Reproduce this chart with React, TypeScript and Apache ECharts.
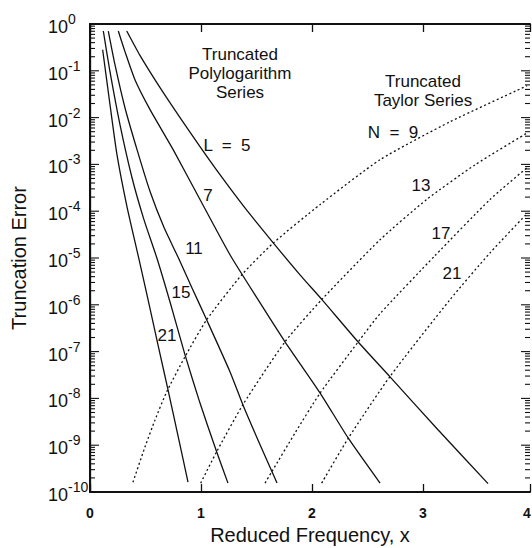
import React, { useEffect, useRef } from 'react';
import * as echarts from 'echarts';

const FONT = '"Liberation Sans", Arial, Helvetica, sans-serif';
const INK = '#111111';

// x axis range (right frame sits just short of x = 4)
const X_MIN = 0;
const X_MAX = 3.964;
const Y_MIN = 1e-10;
const Y_MAX = 1;

// Truncated polylogarithm series (solid): x and log10(error)
const L5_x = [0.331, 0.45, 0.631, 0.811, 0.991, 1.171, 1.396, 1.649, 1.892, 2.09, 2.414, 2.703, 3.135, 3.586];
const L5_log = [-0.15, -0.67, -1.36, -2.0, -2.62, -3.22, -3.93, -4.67, -5.36, -5.89, -6.79, -7.54, -8.67, -9.82];
const L7_x = [0.255, 0.315, 0.405, 0.541, 0.748, 0.991, 1.261, 1.514, 1.757, 2.072, 2.324, 2.613];
const L7_log = [-0.15, -0.59, -1.19, -1.83, -2.68, -3.75, -4.93, -5.89, -6.79, -7.88, -8.84, -9.81];
const L11_x = [0.165, 0.225, 0.315, 0.423, 0.541, 0.667, 0.795, 0.919, 1.051, 1.261, 1.378, 1.532, 1.685];
const L11_log = [-0.15, -0.87, -1.79, -2.68, -3.58, -4.35, -4.99, -5.64, -6.32, -7.43, -8.14, -8.99, -9.81];
const L15_x = [0.12, 0.18, 0.27, 0.378, 0.486, 0.601, 0.721, 0.856, 0.991, 1.141, 1.243];
const L15_log = [-0.15, -1.02, -2.15, -3.28, -4.18, -4.99, -5.94, -7.07, -8.1, -9.14, -9.81];
const L21_x = [0.114, 0.18, 0.243, 0.333, 0.432, 0.523, 0.613, 0.703, 0.793, 0.883];
const L21_log = [-0.55, -1.72, -2.79, -3.9, -4.93, -5.89, -6.86, -7.82, -8.8, -9.79];

// Truncated Taylor series (dotted): x and log10(error)
const N9_x = [0.387, 0.495, 0.586, 0.691, 0.856, 1.051, 1.367, 1.651, 2.072, 2.613, 3.243, 3.937];
const N9_log = [-9.79, -9.04, -8.46, -7.86, -7.11, -6.32, -5.36, -4.68, -3.86, -2.9, -2.09, -1.32];
const N13_x = [0.997, 1.141, 1.376, 1.757, 2.087, 2.613, 3.033, 3.468, 3.937];
const N13_log = [-9.81, -9.14, -8.14, -6.79, -5.89, -4.61, -3.75, -3.01, -2.33];
const N17_x = [1.577, 1.637, 1.847, 2.072, 2.417, 2.613, 3.108, 3.604, 3.937];
const N17_log = [-9.81, -9.57, -8.74, -7.89, -6.79, -6.19, -4.95, -3.75, -3.07];
const N21_x = [2.087, 2.327, 2.703, 3.243, 3.604, 3.937];
const N21_log = [-9.81, -8.85, -7.53, -5.89, -4.89, -4.05];

// decade ticks and minor ticks on the log axis
const decades = [-10, -9, -8, -7, -6, -5, -4, -3, -2, -1];
const minorMultipliers = [2, 3, 4, 5, 6, 7, 8, 9];

const toPairs = (xs: number[], logs: number[]) => xs.map((x, i) => [x, Math.pow(10, logs[i])]);

const solid = (name: string, xs: number[], logs: number[]) => ({
  name,
  type: 'line',
  data: toPairs(xs, logs),
  symbol: 'none',
  smooth: 0.2,
  silent: true,
  lineStyle: { color: INK, width: 1.3, type: 'solid' },
});

const dotted = (name: string, xs: number[], logs: number[]) => ({
  name,
  type: 'line',
  data: toPairs(xs, logs),
  symbol: 'none',
  smooth: 0.2,
  silent: true,
  lineStyle: { color: INK, width: 1.3, type: [2, 2.6] },
});

const txt = (text: string, x: number, y: number, size = 17, extra: any = {}) => ({
  type: 'text',
  x,
  y,
  silent: true,
  style: {
    text,
    fill: INK,
    fontSize: size,
    fontFamily: FONT,
    align: 'center',
    verticalAlign: 'middle',
    textAlign: 'center',
    textVerticalAlign: 'middle',
    ...extra,
  },
});

export default function App() {
  const ref = useRef<HTMLDivElement>(null);

  useEffect(() => {
    if (!ref.current) return;
    const chart = echarts.init(ref.current, null, { renderer: 'svg' });

    const tickVals: number[][] = [];
    decades.forEach((d) => {
      minorMultipliers.forEach((k) => tickVals.push([0, k * Math.pow(10, d), 5]));
      if (d > -10) tickVals.push([0, Math.pow(10, d), 9]);
    });

    const option: any = {
      animation: false,
      backgroundColor: '#ffffff',
      textStyle: { fontFamily: FONT, color: INK },
      grid: { left: 90, right: 2, top: 24, bottom: 56, containLabel: false, outerBoundsMode: 'none' },
      xAxis: [
        {
          type: 'value',
          min: X_MIN,
          max: X_MAX,
          interval: 1,
          position: 'bottom',
          name: 'Reduced Frequency, x',
          nameLocation: 'middle',
          nameGap: 33,
          nameTextStyle: { fontSize: 20, color: INK, fontFamily: FONT },
          axisLine: { show: true, lineStyle: { color: INK, width: 2 } },
          axisTick: { show: true, inside: true, length: 8, lineStyle: { color: INK, width: 1.3 } },
          axisLabel: {
            show: true,
            margin: 14,
            color: INK,
            fontSize: 14,
            fontWeight: 'bold',
            fontFamily: FONT,
            showMaxLabel: true,
            formatter: (v: number) => {
              if (v > X_MAX - 1e-6) return '{r|4}';
              return Math.abs(v - Math.round(v)) < 1e-6 ? String(Math.round(v)) : '';
            },
            rich: {
              r: { fontSize: 14, fontWeight: 'bold', fontFamily: FONT, color: INK, padding: [0, 6, 0, 0] },
            },
          },
          splitLine: { show: false },
        },
        {
          type: 'value',
          min: X_MIN,
          max: X_MAX,
          interval: 1,
          position: 'top',
          axisLine: { show: true, lineStyle: { color: INK, width: 2 } },
          axisTick: { show: true, inside: true, length: 8, lineStyle: { color: INK, width: 1.3 } },
          axisLabel: { show: false },
          splitLine: { show: false },
        },
      ],
      yAxis: [
        {
          type: 'log',
          logBase: 10,
          min: Y_MIN,
          max: Y_MAX,
          interval: 1,
          splitNumber: 10,
          position: 'left',
          name: 'Truncation Error',
          nameLocation: 'middle',
          nameGap: 61,
          nameTextStyle: { fontSize: 20, color: INK, fontFamily: FONT },
          axisLine: { show: true, lineStyle: { color: INK, width: 2 } },
          axisTick: { show: false },
          axisLabel: {
            show: true,
            align: 'left',
            margin: 42,
            showMinLabel: true,
            showMaxLabel: true,
            formatter: (v: number) => {
              const e = Math.round(Math.log10(v));
              return '{b|10}{s|' + String(e) + '}';
            },
            rich: {
              b: { fontSize: 18, lineHeight: 24, verticalAlign: 'bottom', color: INK, fontFamily: FONT },
              s: { fontSize: 14, lineHeight: 14, verticalAlign: 'top', color: INK, fontFamily: FONT },
            },
          },
          splitLine: { show: false },
        },
        {
          type: 'log',
          logBase: 10,
          min: Y_MIN,
          max: Y_MAX,
          interval: 1,
          splitNumber: 10,
          position: 'right',
          axisLine: { show: true, lineStyle: { color: INK, width: 1.3 } },
          axisTick: { show: false },
          axisLabel: { show: false },
          splitLine: { show: false },
        },
      ],
      series: [
        solid('L = 5', L5_x, L5_log),
        solid('L = 7', L7_x, L7_log),
        solid('L = 11', L11_x, L11_log),
        solid('L = 15', L15_x, L15_log),
        solid('L = 21', L21_x, L21_log),
        dotted('N = 9', N9_x, N9_log),
        dotted('N = 13', N13_x, N13_log),
        dotted('N = 17', N17_x, N17_log),
        dotted('N = 21', N21_x, N21_log),
        {
          name: 'log ticks',
          type: 'custom',
          xAxisIndex: 0,
          yAxisIndex: 0,
          silent: true,
          clip: false,
          data: tickVals,
          renderItem: (params: any, api: any) => {
            const v = api.value(1);
            const len = api.value(2);
            const p = api.coord([0, v]);
            const cs = params.coordSys;
            const y = p[1];
            return {
              type: 'group',
              children: [
                { type: 'line', shape: { x1: cs.x, y1: y, x2: cs.x + len, y2: y }, style: { stroke: INK, lineWidth: 1.1 } },
                {
                  type: 'line',
                  shape: { x1: cs.x + cs.width - len, y1: y, x2: cs.x + cs.width, y2: y },
                  style: { stroke: INK, lineWidth: 1.1 },
                },
              ],
            };
          },
        },
      ],
      graphic: [
        txt('Truncated\nPolylogarithm\nSeries', 240, 73, 17, { lineHeight: 19 }),
        txt('Truncated\nTaylor Series', 423, 91, 17, { lineHeight: 19 }),
        txt('L  =  5', 227, 145),
        txt('7', 208, 195),
        txt('11', 194, 248),
        txt('15', 181, 292),
        txt('21', 167, 335),
        txt('N  =  9', 393, 132),
        txt('13', 421, 185),
        txt('17', 441, 233),
        txt('21', 452, 273),
      ],
    };

    chart.setOption(option);
    return () => chart.dispose();
  }, []);

  return <div ref={ref} style={{ position: 'fixed', left: 0, top: 0, width: 532, height: 548, background: '#fff' }} />;
}
